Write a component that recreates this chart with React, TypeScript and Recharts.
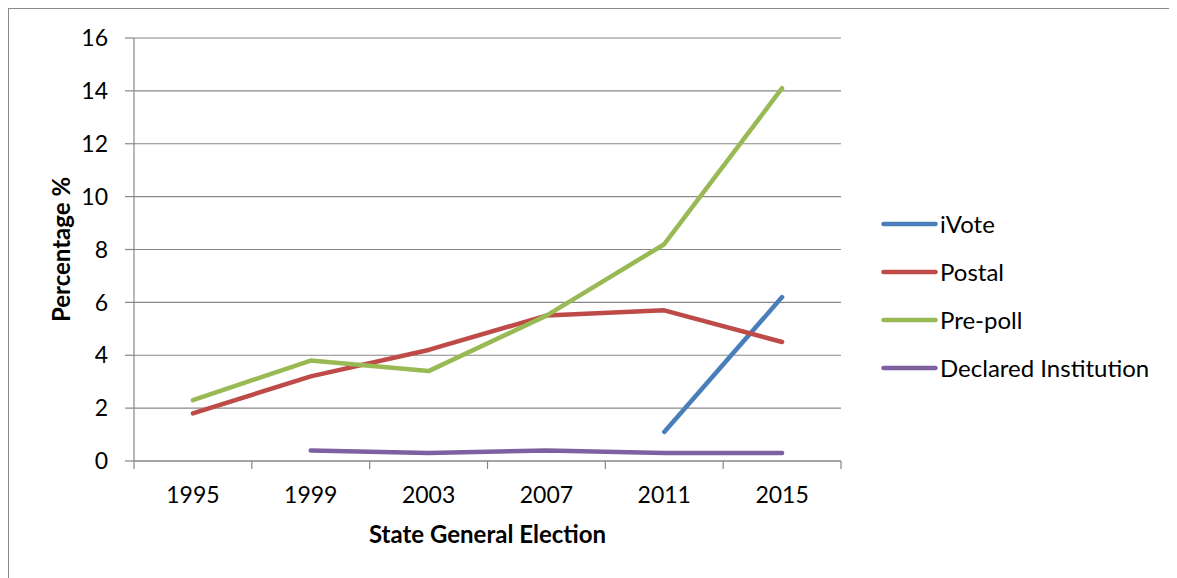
import React from 'react'
import {
  CartesianGrid,
  Legend,
  Line,
  LineChart,
  XAxis,
  YAxis,
} from 'recharts'

// ── Data ──────────────────────────────────────────────────────────────────────
const years    = ['1995', '1999', '2003', '2007', '2011', '2015']
const iVote    = [null, null, null, null, 1.1, 6.2]
const postal   = [1.8, 3.2, 4.2, 5.5, 5.7, 4.5]
const prePoll  = [2.3, 3.8, 3.4, 5.5, 8.2, 14.1]
const declared = [null, 0.4, 0.3, 0.4, 0.3, 0.3]
const yTicks   = [0, 2, 4, 6, 8, 10, 12, 14, 16]

const series = [
  { key: 'ivote',    name: 'iVote',                color: '#4A7EBB' },
  { key: 'postal',   name: 'Postal',               color: '#BE4B48' },
  { key: 'prepoll',  name: 'Pre-poll',             color: '#98B954' },
  { key: 'declared', name: 'Declared Institution', color: '#7D60A0' },
]

const data = years.map((year, i) => ({
  idx: i,
  year,
  ivote: iVote[i],
  postal: postal[i],
  prepoll: prePoll[i],
  declared: declared[i],
}))

// tick marks sit between categories (Excel style), labels at the centres
const xTicks = years.flatMap((_, i) => [i - 0.5, i]).concat(years.length - 0.5)

const FONT  = 'Lato, "Open Sans", sans-serif'
const GRID  = '#888888'
const W     = 1168
const H     = 569

function XTick(props: any) {
  const { x, y, payload } = props
  const v = payload.value as number
  if (!Number.isInteger(v)) {
    return <line x1={x} x2={x} y1={y - 8} y2={y} stroke={GRID} strokeWidth={1.2} />
  }
  return (
    <text x={x} y={y + 34} textAnchor="middle" fontSize={23} fill="#000" fontFamily={FONT}>
      {years[v]}
    </text>
  )
}

function LegendBox() {
  return (
    <div style={{ fontFamily: FONT, fontSize: 24, color: '#000' }}>
      {series.map(s => (
        <div key={s.key} style={{ height: 48, display: 'flex', alignItems: 'center' }}>
          <svg width={57} height={10} style={{ display: 'block' }}>
            <line x1={2.5} x2={54.5} y1={5} y2={5} stroke={s.color} strokeWidth={4.5} strokeLinecap="round" />
          </svg>
          <span style={{ marginLeft: 2, lineHeight: 1 }}>{s.name}</span>
        </div>
      ))}
    </div>
  )
}

export default function App() {
  return (
    <div
      style={{
        width: W + 1,
        height: H + 1,
        borderLeft: '1.3px solid #8a8a8a',
        borderTop: '1.3px solid #8a8a8a',
        background: '#fff',
        fontFamily: FONT,
      }}
    >
      <LineChart width={W} height={H} data={data} margin={{ top: 29, right: 336, bottom: 0, left: 0 }}>
        <CartesianGrid vertical={false} stroke={GRID} strokeWidth={1.2} />
        <XAxis
          dataKey="idx"
          type="number"
          domain={[-0.5, years.length - 0.5]}
          ticks={xTicks}
          interval={0}
          height={117}
          axisLine={{ stroke: GRID, strokeWidth: 1.2 }}
          tickLine={false}
          tickSize={8}
          tickMargin={0}
          tick={<XTick />}
          label={{
            content: (p: any) => {
              const vb = p.viewBox
              return (
                <text
                  x={vb.x + vb.width / 2}
                  y={vb.y + 82}
                  textAnchor="middle"
                  fontSize={24}
                  fontWeight="bold"
                  fontFamily={FONT}
                  fill="#000"
                >
                  State General Election
                </text>
              )
            },
          }}
        />
        <YAxis
          domain={[0, 16]}
          ticks={yTicks}
          width={125}
          axisLine={{ stroke: GRID, strokeWidth: 1.2 }}
          tickLine={{ stroke: GRID, strokeWidth: 1.2 }}
          tickSize={9}
          tickMargin={17}
          tick={{ fontSize: 23, fill: '#000', fontFamily: FONT }}
          label={{
            content: (p: any) => {
              const vb = p.viewBox
              const cx = 51
              const cy = vb.y + vb.height / 2
              return (
                <text
                  x={cx}
                  y={cy}
                  transform={`rotate(-90 ${cx} ${cy})`}
                  textAnchor="middle"
                  dominantBaseline="central"
                  fontSize={24}
                  fontWeight="bold"
                  fontFamily={FONT}
                  fill="#000"
                >
                  Percentage %
                </text>
              )
            },
          }}
        />
        {series.map(s => (
          <Line
            key={s.key}
            dataKey={s.key}
            name={s.name}
            type="linear"
            stroke={s.color}
            strokeWidth={4.5}
            strokeLinecap="round"
            strokeLinejoin="round"
            dot={false}
            activeDot={false}
            connectNulls={false}
            isAnimationActive={false}
          />
        ))}
        <Legend
          layout="vertical"
          align="center"
          verticalAlign="middle"
          content={<LegendBox />}
          wrapperStyle={{ position: 'absolute', left: 872, top: 191, width: 290 }}
        />
      </LineChart>
    </div>
  )
}
